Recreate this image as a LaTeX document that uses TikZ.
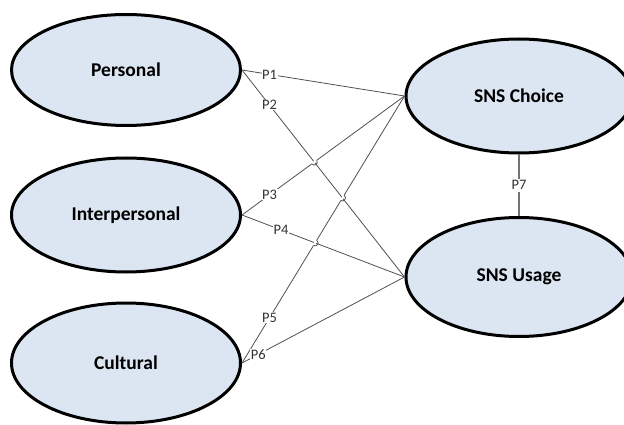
\documentclass[tikz,border=0pt]{standalone}
\usepackage{fontspec}
\setmainfont{Carlito}
\usetikzlibrary{shapes.geometric, intersections, calc}

\definecolor{constructfill}{RGB}{220,230,242}
\definecolor{pathgray}{RGB}{80,80,80}

\tikzset{
  construct/.style={draw=black, line width=3pt, shape=ellipse, fill=constructfill,
    minimum width=229pt, minimum height=114pt, inner sep=0pt,
    font=\fontsize{19.5}{21}\selectfont\bfseries},
  pathline/.style={draw=pathgray, line width=0.8pt},
  pathlabel/.style={fill=white, inner sep=0.6pt, text=black!80,
    font=\fontsize{14.5}{15}\selectfont}
}

%% - small hop of one path over another at a crossing
\newcommand{\pathhop}[3]{%
  \coordinate (hopa) at ($(#1)!3pt!(#2)$);
  \coordinate (hopb) at ($(#1)!3pt!(#3)$);
  \draw[white, line width=2pt] (hopa) -- (hopb);
  \draw[pathline] (hopa) .. controls ($(hopa)!4pt!-90:(#1)$) and ($(hopb)!4pt!90:(#1)$) .. (hopb);
}

\begin{document}
\begin{tikzpicture}[x=1pt, y=-1pt]

%% - Draw canvas
%% - --------------------------------------

\useasboundingbox (0,0) rectangle (624,425);
\clip (0,0) rectangle (624,425);

%% - Draw constructs
%% - --------------------------------------

\node[construct, minimum height=111pt] (personal) at (126,70) {Personal};
\node[construct] (interpersonal) at (126,215) {Interpersonal};
\node[construct, minimum height=120pt] (cultural) at (126,363) {Cultural};

\node[construct, minimum width=226pt] (choice) at (519,96) {SNS Choice};
\node[construct, minimum width=226pt, minimum height=119pt] (usage) at (519,277) {SNS Usage};

%% - Draw paths
%% - --------------------------------------

%% - Personal
\draw[pathline] (personal.east) -- node[pathlabel, pos=0.17] {P1} (choice.west);
\draw[pathline, name path=ptwo] (personal.east) -- node[pathlabel, pos=0.17] {P2} (usage.west);
%% - Interpersonal
\draw[pathline, name path=pthree] (interpersonal.east) -- node[pathlabel, pos=0.17] {P3} (choice.west);
\draw[pathline, name path=pfour] (interpersonal.east) -- node[pathlabel, pos=0.24] {P4} (usage.west);
%% - Cultural
\draw[pathline, name path=pfive] (cultural.east) -- node[pathlabel, pos=0.17] {P5} (choice.west);
\draw[pathline] (cultural.east) -- node[pathlabel, pos=0.10] {P6} (usage.west);
%% - SNS Choice to SNS Usage
\draw[pathline, line width=1.6pt, draw=pathgray!80] (choice.south) -- node[pathlabel, inner sep=2pt] {P7} (usage.north);

%% - Draw hops at crossings
%% - --------------------------------------

\path[name intersections={of=pthree and ptwo, by=xa}];
\path[name intersections={of=pfive and ptwo, by=xb}];
\path[name intersections={of=pfive and pfour, by=xc}];

\pathhop{xa}{interpersonal.east}{choice.west}
\pathhop{xb}{cultural.east}{choice.west}
\pathhop{xc}{cultural.east}{choice.west}

\end{tikzpicture}
\end{document}
